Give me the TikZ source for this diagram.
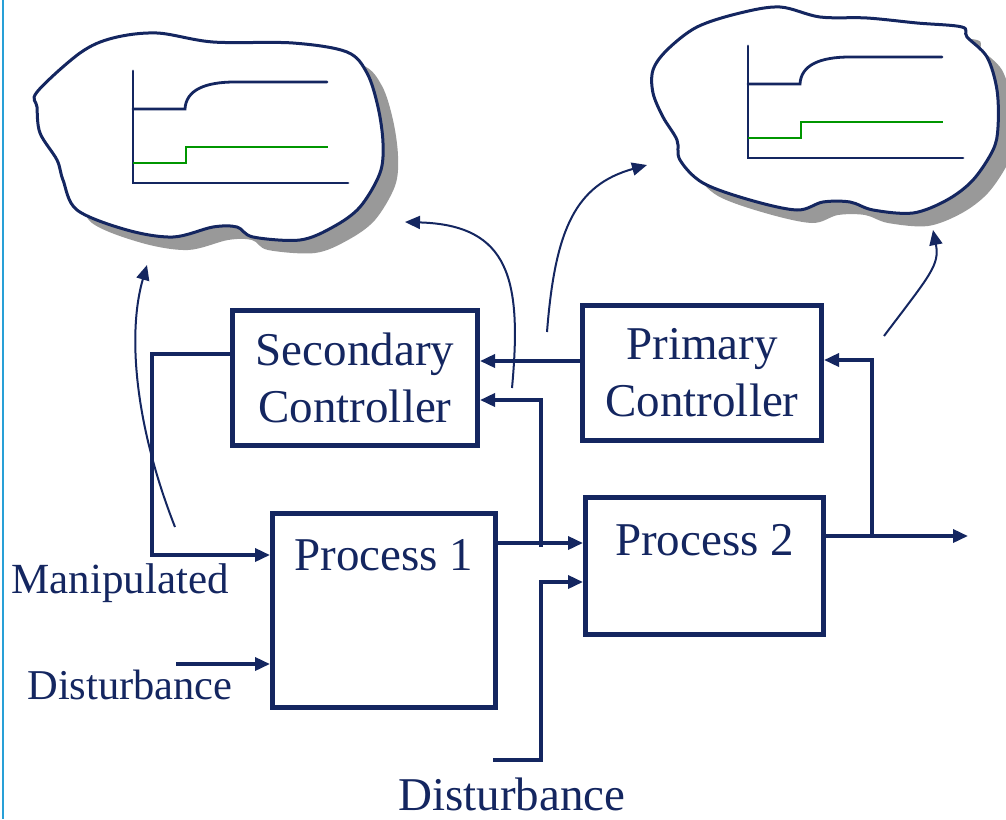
\documentclass[tikz,border=0pt]{standalone}
\usepackage{fontspec}
\setmainfont{Liberation Serif}
\usetikzlibrary{arrows.meta}
\definecolor{navy}{RGB}{20,38,96}
\definecolor{trendgreen}{RGB}{0,150,0}
\definecolor{edgeblue}{RGB}{40,160,215}
\newcommand{\diagfont}{\fontsize{47pt}{57pt}\selectfont}
\newcommand{\leftcloud}{plot[smooth cycle, tension=0.55] coordinates {(37,92) (80,53) (113,38) (157,33) (213,42) (293,43) (347,52) (367,73) (378,107) (383,143) (380,173) (360,207) (333,227) (300,240) (253,237) (237,227) (213,227) (173,237) (127,230) (77,210) (63,180) (57,160) (40,133) (37,107)}}
\newcommand{\rightcloud}{plot[smooth cycle, tension=0.55] coordinates {(653,70) (667,50) (697,27) (740,13) (780,7) (820,17) (867,18) (917,23) (962,27) (967,37) (987,57) (997,90) (998,127) (993,150) (973,180) (947,200) (913,213) (873,210) (850,202) (823,202) (797,210) (750,200) (703,183) (680,160) (677,140) (663,117) (653,93)}}

\begin{document}
\begin{tikzpicture}[x=1pt, y=-1pt, >={Triangle[length=15pt,width=13pt]}, line join=miter]
   \tikzstyle{block}=[draw=navy, line width=5pt, rectangle, inner sep=0pt, text=navy, font=\diagfont, align=center]
   \tikzstyle{signal}=[->, draw=navy, line width=3.5pt]
   \tikzstyle{trend}=[->, draw=navy, line width=2pt]
   \tikzstyle{tag}=[text=navy, font=\diagfont, inner sep=0pt, anchor=base]
   \tikzstyle{cloud}=[fill=white, draw=navy, line width=3pt]
   \tikzstyle{shade}=[fill=black!40, draw=none]
   \tikzstyle{curve}=[line width=2.8pt, line cap=round]

   \useasboundingbox (0,0) rectangle (1006,819);
   \draw[edgeblue, line width=2pt] (3,0) -- (3,819);

   \path[shade, shift={(15,13)}] \leftcloud;
   \path[cloud] \leftcloud;
   \path[shade, shift={(15,13)}] \rightcloud;
   \path[cloud] \rightcloud;

   \foreach \dx/\dy in {0/0, 615/-25} {
     \begin{scope}[shift={(\dx,\dy)}]
       \draw[curve, navy] (133,71) -- (133,183) -- (348,183);
       \draw[curve, navy] (133,109) -- (185,109) .. controls (186,90) and (205,82) .. (235,82) -- (327,82);
       \draw[curve, trendgreen, line cap=butt] (133,163) -- (186,163) -- (186,147) -- (328,147);
     \end{scope}
   }

   \node[block, minimum width=245pt, minimum height=135pt] (secondary) at (355,378) {Secondary\\Controller};
   \node[block, minimum width=239pt, minimum height=135pt] (primary) at (702,373) {Primary\\Controller};
   \node[block, minimum width=223pt, minimum height=194pt, text height=32pt, text depth=113pt] (proc1) at (384,610.5) {Process 1};
   \node[block, minimum width=238pt, minimum height=137pt, text height=32pt, text depth=54pt] (proc2) at (704.5,566) {Process 2};

   \node[tag, font=\fontsize{43pt}{50pt}\selectfont] (manip) at (120,593) {Manipulated};
   \node[tag, font=\fontsize{42.5pt}{50pt}\selectfont] (dist1) at (130,699) {Disturbance};
   \node[tag] (dist2) at (512,810) {Disturbance};

   \coordinate (mvcorner) at (152,455);
   \coordinate (d1in) at (176,664);
   \coordinate (d2in) at (493,760);
   \coordinate (d2corner) at (541,670);
   \coordinate (tap1) at (541,547);
   \coordinate (tap2) at (872,536);
   \coordinate (output) at (968,536);

   \draw[signal] (secondary.west |- 0,354) -| (mvcorner) |- (proc1.west |- 0,555);
   \draw[signal] (d1in) -- (proc1.west |- d1in);
   \draw[signal] (d2in) -| (d2corner) |- (proc2.west |- 0,582);
   \draw[signal] (proc1.east |- 0,543) -- (proc2.west |- 0,543);
   \draw[signal] (tap1) |- (secondary.east |- 0,400);
   \draw[signal] (proc2.east |- 0,536) -- (output);
   \draw[signal] (tap2) |- (primary.east |- 0,360);
   \draw[signal] (primary.west |- 0,361) -- (secondary.east |- 0,361);

   \coordinate (mvtrend) at (175,527);
   \coordinate (cloudA) at (147,265);
   \coordinate (sectrend) at (512,388);
   \coordinate (cloudAr) at (405,222);
   \coordinate (pritrend) at (547,332);
   \coordinate (cloudB) at (647,165);
   \coordinate (cvtrend) at (884,336);
   \coordinate (cloudBr) at (933,230);

   \draw[trend] (mvtrend) .. controls (133,420) and (128,330) .. (cloudA);
   \draw[trend] (sectrend) .. controls (522,280) and (510,225) .. (cloudAr);
   \draw[trend] (pritrend) .. controls (555,230) and (575,185) .. (cloudB);
   \draw[trend] (cvtrend) .. controls (930,275) and (940,265) .. (cloudBr);
\end{tikzpicture}
\end{document}
